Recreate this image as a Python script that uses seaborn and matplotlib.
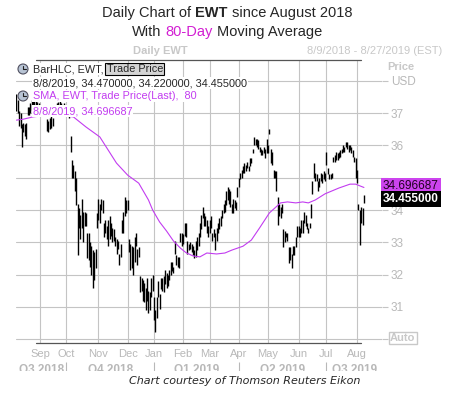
import matplotlib
matplotlib.use("Agg")
import matplotlib.pyplot as plt
import seaborn as sns
import numpy as np
import pandas as pd
from matplotlib.lines import Line2D
from matplotlib.patches import Rectangle, Ellipse

# trading days shown on the chart (Aug 9 2018 - Aug 8 2019)
holidays = ['2018-09-03', '2018-11-22', '2018-12-05', '2018-12-25', '2019-01-01',
            '2019-01-21', '2019-02-18', '2019-04-19', '2019-05-27', '2019-07-04']
days = pd.bdate_range('2018-08-09', '2019-08-08')
days = days[~days.isin(pd.to_datetime(holidays))]

# daily highs / lows
high = [37.6, 37.4, 37.05, 37.0, 36.65, 36.7, 36.65, 36.7, 37.2, 37.2,
        37.3, 37.4, 37.5, 37.55, 37.45, 37.35, 37.3, 37.2, 37.1, 37.05,
        37.05, 37.0, 36.8, 36.75, 36.85, 36.9, 36.85, 37.1, 37.2, 37.3,
        37.35, 37.4, 37.3, 37.25, 37.3, 37.2, 37.2, 37.1, 37.1, 36.3,
        35.55, 35.4, 35.2, 35.0, 34.2, 34.05, 33.85, 34.35, 33.95, 33.95,
        33.9, 33.3, 33.3, 33.0, 32.9, 32.75, 32.7, 32.8, 33.9, 34.35,
        34.2, 34.35, 34.3, 33.6, 33.7, 33.5, 33.7, 33.8, 33.6, 33.45,
        33.4, 33.15, 33.1, 33.05, 32.65, 32.95, 33.7, 33.95, 34.4, 34.3,
        34.3, 33.1, 32.95, 32.9, 32.85, 33.15, 33.3, 32.8, 32.85, 31.95,
        31.9, 31.85, 31.75, 31.6, 31.9, 31.5, 31.45, 31.9, 32.0, 31.3,
        30.9, 31.3, 31.8, 31.4, 31.9, 31.9, 31.95, 32.15, 32.05, 32.0,
        32.15, 32.4, 32.4, 32.25, 33.05, 32.6, 32.55, 32.55, 33.3, 33.3,
        33.25, 33.6, 33.6, 33.05, 32.95, 33.0, 32.95, 32.9, 32.75, 33.05,
        33.15, 33.3, 33.6, 33.85, 34.1, 33.9, 33.8, 33.7, 33.5, 33.7,
        33.8, 33.3, 33.4, 33.3, 33.45, 33.6, 33.75, 33.8, 34.0, 34.2,
        34.3, 34.6, 34.7, 34.65, 34.6, 34.2, 34.35, 34.3, 34.25, 34.7,
        35.0, 35.15, 35.25, 35.35, 35.45, 35.4, 35.5, 35.35, 35.6, 35.6,
        35.9, 36.25, 36.2, 36.2, 36.15, 35.95, 35.9, 35.85, 35.95, 35.9,
        36.2, 36.0, 36.5, 35.9, 35.8, 35.25, 35.2, 35.2, 34.4, 34.2,
        34.1, 34.2, 33.4, 33.35, 33.3, 33.3, 32.85, 32.85, 32.65, 32.9,
        32.9, 33.15, 33.5, 33.5, 33.45, 33.7, 33.7, 33.95, 33.85, 33.6,
        33.45, 33.6, 34.2, 34.9, 35.45, 35.15, 35.1, 34.9, 35.0, 35.15,
        35.1, 35.2, 35.15, 35.8, 35.3, 35.1, 35.1, 35.15, 35.65, 35.7,
        35.8, 35.75, 35.8, 35.85, 35.9, 36.0, 35.95, 36.1, 36.1, 36.0,
        36.0, 35.95, 35.85, 35.65, 35.6, 35.25, 34.2, 34.0, 34.1, 34.05,
        34.47]
low = [37.05, 37.0, 36.6, 36.55, 35.95, 36.4, 36.3, 36.2, 36.95, 36.95,
       37.0, 37.1, 37.15, 37.2, 37.1, 37.05, 37.0, 36.9, 36.9, 36.9,
       36.9, 36.9, 36.45, 36.4, 36.5, 36.55, 36.6, 36.9, 36.95, 37.0,
       37.05, 37.1, 37.0, 36.95, 37.0, 36.95, 36.9, 36.9, 36.85, 35.8,
       35.0, 35.0, 34.6, 34.15, 32.6, 33.45, 33.1, 33.45, 33.0, 33.5,
       33.5, 32.5, 32.45, 32.25, 32.0, 31.6, 31.85, 32.2, 33.45, 33.7,
       33.6, 34.0, 33.9, 33.15, 33.3, 33.1, 32.9, 33.1, 33.2, 33.0,
       33.05, 32.9, 32.65, 32.8, 32.3, 32.55, 33.3, 33.3, 33.8, 33.9,
       34.0, 32.7, 32.15, 32.2, 32.0, 32.4, 32.9, 32.3, 32.55, 31.45,
       31.5, 31.2, 31.15, 30.9, 31.2, 30.8, 30.9, 31.3, 31.5, 30.6,
       30.22, 30.65, 31.3, 30.95, 31.55, 31.5, 31.45, 31.7, 31.6, 31.65,
       31.85, 32.0, 32.1, 32.05, 32.65, 32.3, 32.25, 32.2, 33.0, 32.9,
       32.95, 33.2, 33.15, 32.65, 32.75, 32.8, 32.7, 32.6, 32.5, 32.55,
       32.75, 32.9, 33.15, 33.4, 33.75, 33.5, 33.5, 33.3, 33.15, 33.3,
       33.45, 33.05, 33.15, 32.75, 33.05, 33.3, 33.4, 33.5, 33.75, 33.9,
       33.95, 34.15, 34.3, 34.2, 34.1, 33.9, 33.9, 34.05, 34.0, 34.4,
       34.7, 34.95, 35.0, 35.15, 35.15, 35.2, 35.3, 35.2, 35.35, 35.45,
       35.75, 36.0, 36.0, 35.95, 35.9, 35.8, 35.7, 35.7, 35.75, 35.6,
       35.75, 35.75, 36.35, 35.45, 35.4, 35.0, 35.0, 34.6, 33.55, 33.8,
       33.75, 33.9, 32.85, 33.0, 33.15, 33.05, 32.35, 32.45, 32.2, 32.6,
       32.6, 32.85, 33.15, 33.15, 33.15, 33.3, 33.3, 33.6, 33.5, 33.4,
       33.3, 33.45, 33.75, 34.5, 35.0, 34.9, 34.9, 34.6, 34.7, 34.9,
       34.85, 34.95, 34.9, 35.4, 35.1, 34.95, 34.95, 35.0, 35.5, 35.5,
       35.55, 35.55, 35.6, 35.65, 35.75, 35.8, 35.8, 35.95, 35.9, 35.8,
       35.85, 35.75, 35.65, 35.5, 35.0, 34.85, 34.0, 32.92, 33.6, 33.55,
       34.22]

# 80-day SMA read at points along the magenta line (trading-day index, value)
sma_idx = [0, 5, 10, 12, 20, 30, 41, 50, 60, 72, 80, 88, 95, 98, 103, 108,
           113, 118, 122, 127, 132, 137, 144, 150, 155, 163, 169, 175, 182,
           190, 195, 201, 206, 210, 215, 222, 232, 240, 244, 250]
sma_val = [36.78, 36.81, 36.86, 36.88, 36.92, 36.93, 36.88, 36.57, 36.26,
           35.45, 35.08, 34.83, 34.31, 34.0, 33.63, 33.35, 33.04, 32.82,
           32.68, 32.58, 32.55, 32.67, 32.64, 32.67, 32.76, 32.88, 33.07,
           33.45, 33.91, 34.22, 34.25, 34.22, 34.25, 34.22, 34.31, 34.5,
           34.68, 34.8, 34.8, 34.697]

last_bar = "8/8/2019, 34.470000, 34.220000, 34.455000"
last_sma = "8/8/2019, 34.696687"

W, H = 451, 393
GRAY = '#c4c4c4'
TXT_GRAY = '#b8b8b8'
MAG = '#c23cf0'


def px(x, y):
    return x / W, 1 - y / H


sns.set_theme(style='white')
plt.rcParams['font.family'] = ['Liberation Sans', 'DejaVu Sans']

fig = plt.figure(figsize=(W / 100, H / 100), dpi=100)
ax = fig.add_axes([16 / W, 1 - 343 / H, (382 - 16) / W, 283 / H])

idx = np.arange(len(days))
ax.vlines(idx, low, high, color='black', linewidth=1.0, zorder=3)
sns.lineplot(x=sma_idx, y=sma_val, color=MAG, linewidth=0.8, ax=ax, zorder=4)

ax.set_xlim(-0.3, 263)
ax.set_ylim(29.886, 38.64)
for s in ax.spines.values():
    s.set_visible(False)

# months
months = days.to_period('M')
starts = [i for i in range(1, len(days)) if months[i] != months[i - 1]]
ax.set_xticks(starts)
ax.set_xticklabels([days[i].strftime('%b') for i in starts], color=TXT_GRAY, fontsize=8)
ax.tick_params(axis='x', length=0, pad=4)

yt = list(range(30, 39))
ax.set_yticks(yt)
ax.set_yticklabels(['' if v in (30, 35) else ('USD' if v == 38 else str(v)) for v in yt],
                   color=TXT_GRAY, fontsize=8.5)
ax.yaxis.tick_right()
ax.tick_params(axis='y', length=4.5, width=0.8, color=GRAY, pad=2)
ax.grid(True, color=GRAY, linewidth=0.8)

# quarters
quarters = days.to_period('Q')
qstarts = [0] + [i for i in range(1, len(days)) if quarters[i] != quarters[i - 1]]
qends = qstarts[1:] + [263]
for a, b in zip(qstarts, qends):
    q = quarters[a]
    ax.text((a + b) / 2, -0.095, f"Q{q.quarter} {q.year}", transform=ax.get_xaxis_transform(),
            ha='center', va='center', fontsize=8.5, fontweight='bold', color=TXT_GRAY, clip_on=False)
ax.vlines(qstarts[1:], -0.068, -0.1, transform=ax.get_xaxis_transform(), color=TXT_GRAY,
          linewidth=0.8, clip_on=False)

# frame lines
for yy in (60, 343):
    fig.add_artist(Line2D([36 / W, 361 / W], [1 - yy / H] * 2, color='#555555', linewidth=0.9))

# cut-off strip under the chart
fig.add_artist(Rectangle((0, 0), 1, 1 - 370.5 / H, transform=fig.transFigure,
                         facecolor='white', edgecolor='none', zorder=2))

renderer = fig.canvas.get_renderer()


def rich(pieces, x, y, size, ha='center'):
    objs = []
    for s, kw in pieces:
        t = fig.text(0, 0, s, fontsize=size, va='center', **kw)
        objs.append((t, t.get_window_extent(renderer).width))
    sp = fig.text(0, 0, 'x x', fontsize=size)
    sp2 = fig.text(0, 0, 'xx', fontsize=size)
    gap = sp.get_window_extent(renderer).width - sp2.get_window_extent(renderer).width
    sp.remove()
    sp2.remove()
    total = sum(w for _, w in objs) + gap * (len(objs) - 1)
    cur = x - total / 2 if ha == 'center' else x
    for t, w in objs:
        t.set_position(px(cur, y))
        cur += w + gap


rich([("Daily Chart of", {}), ("EWT", {'fontweight': 'bold'}), ("since August 2018", {})],
     227, 13, 10.5)
rich([("With", {}), ("80-Day", {'color': '#d21ed2'}), ("Moving Average", {})], 227, 32, 10.5)

fig.text(*px(160, 51), "Daily EWT", fontsize=8, fontweight='bold', color='#c8c8c8',
         ha='center', va='center')
fig.text(*px(442, 51), "8/9/2018 - 8/27/2019 (EST)", fontsize=8, color='#c8c8c8',
         ha='right', va='center')
fig.text(*px(387, 67), "Price", fontsize=8, fontweight='bold', color='#c8c8c8', va='center')

# legend block
wb = dict(facecolor='white', edgecolor='none', pad=0.5)
for cy in (69, 96):
    fig.add_artist(Ellipse(px(23, cy), 10 / W, 10 / H, facecolor='#b8c4d4', edgecolor='#505060',
                           linewidth=0.8, transform=fig.transFigure, zorder=5))
    fig.add_artist(Line2D([23 / W, 23 / W, 26 / W], [1 - (cy - 3) / H, 1 - cy / H, 1 - cy / H],
                          color='#202020', linewidth=0.8, zorder=6))
rich([("BarHLC, EWT,", {'bbox': wb}),
      ("Trade Price", {'bbox': dict(facecolor='#d4d4d4', edgecolor='black', pad=1, linewidth=0.8)})],
     33, 69, 7.8, ha='left')
fig.text(*px(33, 83), last_bar, fontsize=7.8, va='center', bbox=wb)
fig.text(*px(33, 96), "SMA, EWT, Trade Price(Last),  80", fontsize=7.8, color=MAG, va='center', bbox=wb)
fig.text(*px(33, 111), last_sma, fontsize=7.8, color=MAG, va='center', bbox=wb)

# last value flags
fig.text(*px(383, 186), "34.696687", fontsize=8.5, color='#200020', va='center',
         bbox=dict(facecolor='#cc44ee', edgecolor='none', pad=1.2))
fig.text(*px(383, 199), "34.455000", fontsize=8.5, fontweight='bold', color='white', va='center',
         bbox=dict(facecolor='black', edgecolor='none', pad=1.2))
fig.text(*px(390, 338), "Auto", fontsize=8, fontweight='bold', color='#c8c8c8', va='center',
         bbox=dict(facecolor='white', edgecolor='#c8c8c8', pad=1, linewidth=1))

fig.text(*px(245, 381), "Chart courtesy of Thomson Reuters Eikon", fontsize=8, style='italic',
         family=['DejaVu Sans'], ha='center', va='center', zorder=5)

fig.savefig('out.png', dpi=100)
